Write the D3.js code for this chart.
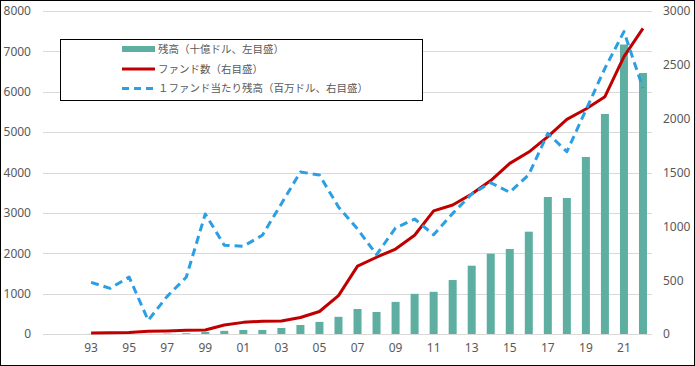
<!DOCTYPE html>
<html><head><meta charset="utf-8">
<script src="https://cdn.jsdelivr.net/npm/d3@7"></script>
<style>
html,body{margin:0;padding:0;background:#fff;}
svg{display:block;}
</style></head>
<body>
<svg id="chart" width="695" height="366"></svg>
<script>
// Categories (fiscal years)
const years = ["91","92","93","94","95","96","97","98","99","00","01","02","03","04","05","06","07","08","09","10","11","12","13","14","15","16","17","18","19","20","21","22"];
// 残高（十億ドル、左目盛）
const assets = [null,null,4,5,8,3,10,18,50,78,99,100,150,223,300,425,619,545,795,995,1045,1337,1692,1989,2105,2534,3393,3368,4384,5449,7170,6464];
// ファンド数（右目盛）
const funds = [null,null,9,11,15,25,28,34,37,83,108,119,120,153,209,356,630,713,789,917,1143,1198,1300,1425,1585,1690,1833,1994,2090,2204,2576,2839];
// １ファンド当たり残高（百万ドル、右目盛）
const perFund = [null,null,480,424,529,127,350,527,1115,824,815,917,1210,1505,1477,1180,975,737,985,1068,922,1120,1300,1405,1316,1480,1864,1693,2080,2468,2808,2282];
// Tick labels
const xTickLabels = ["93","95","97","99","01","03","05","07","09","11","13","15","17","19","21"];
const leftTicks = [0,1000,2000,3000,4000,5000,6000,7000,8000];
const rightTicks = [0,500,1000,1500,2000,2500,3000];
const legendLabels = ["残高（十億ドル、左目盛）","ファンド数（右目盛）","１ファンド当たり残高（百万ドル、右目盛）"];

const colTeal = "#5eafa2", colRed = "#c00000", colBlue = "#2b9fe4", txtCol = "#595959";
const svg = d3.select("#chart");

const x = d3.scaleBand().domain(years).range([43.5, 652.5]).padding(0);
const yL = d3.scaleLinear().domain([0, 8000]).range([334, 11]);
const yR = d3.scaleLinear().domain([0, 3000]).range([334, 11]);
const cx = d => x(d) + x.bandwidth() / 2;

// outer border
svg.append("rect").attr("x",0.5).attr("y",0.5).attr("width",694).attr("height",365)
  .attr("fill","#fff").attr("stroke","#000").attr("stroke-width",1);

// gridlines
svg.append("g").selectAll("line").data(leftTicks).join("line")
  .attr("x1",43).attr("x2",652)
  .attr("y1",d=>Math.round(yL(d))+0.5).attr("y2",d=>Math.round(yL(d))+0.5)
  .attr("stroke","#d9d9d9").attr("stroke-width",1);

// left axis
const leftAxis = d3.axisLeft(yL).tickValues(leftTicks).tickSize(0).tickPadding(0).tickFormat(d3.format("d"));
const gL = svg.append("g").attr("transform","translate(31,0)").call(leftAxis);
gL.select(".domain").remove();
gL.selectAll("text").attr("fill",txtCol).style("font-family","'Noto Sans', sans-serif").style("font-size","12px");

// right axis
const rightAxis = d3.axisRight(yR).tickValues(rightTicks).tickSize(0).tickPadding(0).tickFormat(d3.format("d"));
const gR = svg.append("g").attr("transform","translate(663,0)").call(rightAxis);
gR.select(".domain").remove();
gR.selectAll("text").attr("fill",txtCol).style("font-family","'Noto Sans', sans-serif").style("font-size","12px");

// x axis
const xAxis = d3.axisBottom(x).tickValues(xTickLabels).tickSize(0).tickPadding(0);
const gX = svg.append("g").attr("transform","translate(0,343)").call(xAxis);
gX.select(".domain").remove();
gX.selectAll("text").attr("fill",txtCol).style("font-family","'Noto Sans', sans-serif").style("font-size","12px");

// bars
const barW = 8;
const barData = years.map((y,i)=>({y, v: assets[i]})).filter(d=>d.v!==null);
svg.append("g").selectAll("rect").data(barData).join("rect")
  .attr("x",d=>cx(d.y)-barW/2).attr("width",barW)
  .attr("y",d=>yL(d.v)).attr("height",d=>yL(0)-yL(d.v))
  .attr("fill",colTeal);

// lines
const lineR = d3.line().defined(d=>d.v!==null).x(d=>cx(d.y)).y(d=>yR(d.v));
svg.append("path").datum(years.map((y,i)=>({y, v: funds[i]})))
  .attr("d",lineR).attr("fill","none").attr("stroke",colRed).attr("stroke-width",3)
  .attr("stroke-linejoin","round");
svg.append("path").datum(years.map((y,i)=>({y, v: perFund[i]})))
  .attr("d",lineR).attr("fill","none").attr("stroke",colBlue).attr("stroke-width",3)
  .attr("stroke-dasharray","8,5").attr("stroke-linejoin","round");

// legend
const lg = svg.append("g");
lg.append("rect").attr("x",60.5).attr("y",39.5).attr("width",362).attr("height",61)
  .attr("fill","#fff").attr("stroke","#000").attr("stroke-width",1);
const rowY = [49, 69, 88.5];
lg.append("rect").attr("x",122).attr("y",rowY[0]-3).attr("width",33).attr("height",6).attr("fill",colTeal);
lg.append("line").attr("x1",122).attr("x2",155).attr("y1",rowY[1]).attr("y2",rowY[1])
  .attr("stroke",colRed).attr("stroke-width",3);
lg.append("line").attr("x1",122).attr("x2",155).attr("y1",rowY[2]).attr("y2",rowY[2])
  .attr("stroke",colBlue).attr("stroke-width",3).attr("stroke-dasharray","7,5");
lg.selectAll("text").data(legendLabels).join("text")
  .attr("x",158).attr("y",(d,i)=>rowY[i]).attr("dy","0.35em")
  .attr("fill",txtCol).style("font-family","'Noto Sans CJK JP', sans-serif").style("font-size","10.5px")
  .text(d=>d);
</script>
</body></html>
